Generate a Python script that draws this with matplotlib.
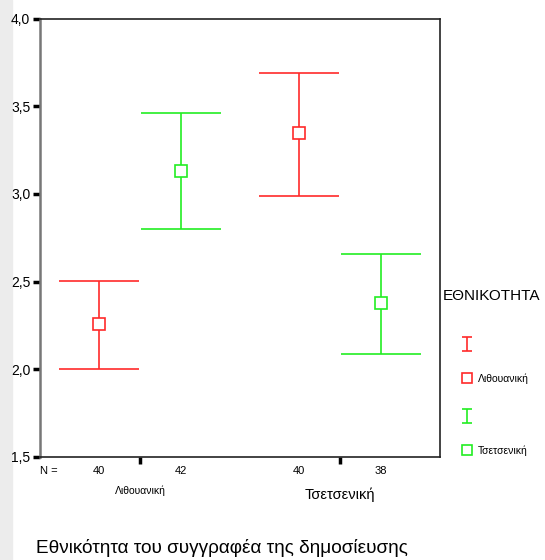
import matplotlib
matplotlib.use("Agg")
import matplotlib.pyplot as plt
from matplotlib.patches import Rectangle
from matplotlib.ticker import FuncFormatter

plt.rcParams["font.family"] = ["Liberation Sans", "DejaVu Sans"]

# --- data ---
groups = ["Λιθουανική", "Τσετσενική"]
series = ["Λιθουανική", "Τσετσενική"]
colors = ["#ff2a2a", "#22ee22"]
means = [[2.26, 3.13], [3.35, 2.38]]      # means[group][series]
lower = [[2.00, 2.80], [2.99, 2.09]]
upper = [[2.505, 3.46], [3.69, 2.655]]
counts = [[40, 42], [40, 38]]
yticks = [1.5, 2.0, 2.5, 3.0, 3.5, 4.0]

W, H = 545, 560
fig = plt.figure(figsize=(W / 100, H / 100), dpi=100)
fig.patches.append(Rectangle((0, 0), 12 / W, 1, transform=fig.transFigure,
                             color="#ececec", zorder=-5))

ax = fig.add_axes([40 / W, 103 / H, 400 / W, 438.5 / H])
ax.set_xlim(0.5, 2.5)
ax.set_ylim(1.5, 4.0)

offset = 0.205
for g in range(len(groups)):
    for s in range(len(series)):
        x = g + 1 + (s - 0.5) * 2 * offset
        m = means[g][s]
        ax.errorbar([x], [m],
                    yerr=[[m - lower[g][s]], [upper[g][s] - m]],
                    fmt="none", ecolor=colors[s], elinewidth=1.2,
                    capsize=29, capthick=1.2)
        ax.plot([x], [m], "s", ms=8, mfc="white", mec=colors[s], mew=1.2,
                zorder=3)
        ax.text(x, -0.02, str(counts[g][s]), transform=ax.get_xaxis_transform(),
                ha="center", va="top", fontsize=8)

ax.text(0.5, -0.02, "N =", transform=ax.get_xaxis_transform(),
        ha="left", va="top", fontsize=8)
ax.text(1, -0.065, groups[0], transform=ax.get_xaxis_transform(),
        ha="center", va="top", fontsize=7.5)
ax.text(2, -0.07, groups[1], transform=ax.get_xaxis_transform(),
        ha="center", va="top", fontsize=10.5)

ax.set_xticks([1, 2])
ax.set_xticklabels([])
ax.set_yticks(yticks)
ax.yaxis.set_major_formatter(FuncFormatter(lambda v, p: f"{v:.1f}".replace(".", ",")))
ax.tick_params(axis="both", direction="out", length=5, width=2.5, color="black",
               labelsize=10, pad=2)
for side in ["top", "right", "bottom"]:
    ax.spines[side].set_color("#222222")
    ax.spines[side].set_linewidth(1.2)
ax.spines["left"].set_color("#777777")
ax.spines["left"].set_linewidth(1.8)

fig.text(222 / W, 1 - 548 / H, "Εθνικότητα του συγγραφέα της δημοσίευσης",
         ha="center", va="center", fontsize=13.7)

# --- legend ---
lg = fig.add_axes([440 / W, 0, 105 / W, 1])
lg.set_xlim(440, 545)
lg.set_ylim(560, 0)
lg.axis("off")
lg.text(443, 296, "ΕΘΝΙΚΟΤΗΤΑ", ha="left", va="center", fontsize=11)
for s in range(len(series)):
    yb = 344 + s * 72
    lg.errorbar([467], [yb], yerr=[[7], [7]], fmt="none", ecolor=colors[s],
                elinewidth=1.2, capsize=3.5, capthick=1.2)
    lg.plot([467], [yb + 34], "s", ms=7, mfc="white", mec=colors[s], mew=1.2)
    lg.text(478, yb + 35, series[s], ha="left", va="center", fontsize=7.5)

fig.savefig("out.png", dpi=100)
